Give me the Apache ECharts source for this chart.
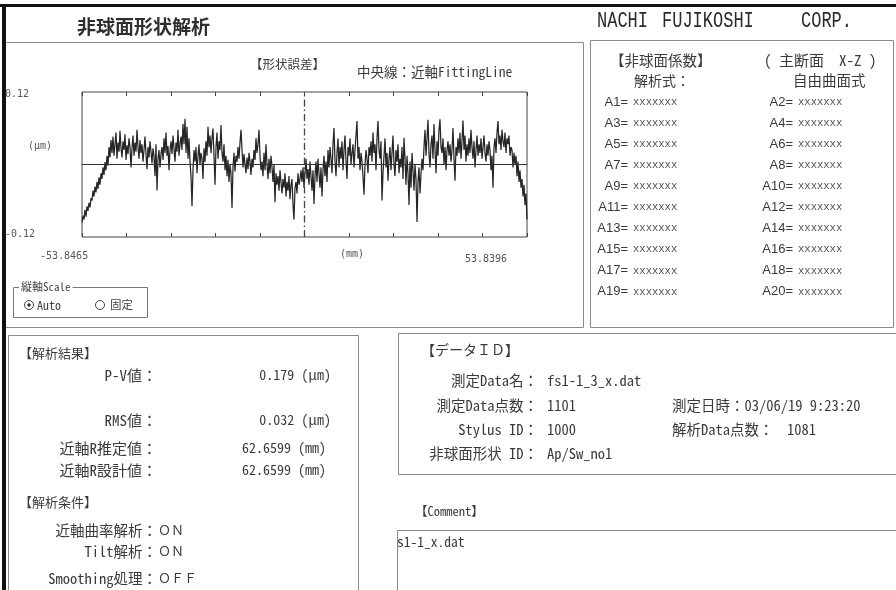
<!DOCTYPE html>
<html>
<head>
<meta charset="utf-8">
<script src="https://cdn.jsdelivr.net/npm/echarts@6/dist/echarts.min.js"></script>
<style>
  html, body { margin: 0; padding: 0; background: #fff; }
  #main { width: 896px; height: 590px; }
</style>
</head>
<body>
<div id="main"></div>
<script>
// ---- measured profile: form error in nm, sampled evenly over the scan length (mm) ----
const xMin = -53.8465;
const xMax = 53.8396;
const xEndLabels = ['-53.8465', '53.8396'];
const yTickValues = [-0.12, 0.12];

const profileNm = [
  -100, -88, -95, -78, -90, -72, -80, -66, -74, -58,
  -62, -45, -55, -38, -48, -30, -42, -22, -35, -15,
  -25, -5, -18, 4, -10, 15, -2, 30, 12, 42,
  20, 48, 15, 35, 55, 10, 38, 22, 58, 28,
  12, 40, 25, 52, 8, 33, 18, 45, 30, -5,
  28, 50, 15, 38, 22, 60, 30, 10, 42, 20,
  35, 5, 25, 48, 18, -8, 30, 12, 40, 22,
  2, 28, 15, -20, 35, -45, 10, 25, -5, 18,
  30, 8, 45, 20, 55, 15, 32, -10, 25, 40,
  18, 50, 28, 5, 38, 22, 60, 15, 35, 48,
  25, 70, 35, 79, 20, 65, 10, 45, 5, -20,
  -72, -10, 25, 5, 30, -15, 15, 35, 0, 20,
  10, -25, 28, 5, 40, 15, 65, 30, 50, 20,
  45, 62, 15, -35, 30, 55, 10, 40, 25, 68,
  20, 5, 35, -10, 15, -20, 8, -30, 0, -15,
  -75, -5, 20, -12, 15, 5, 30, 10, 38, 60,
  25, -5, 18, 0, -15, 12, -8, 20, 5, -18,
  10, -5, 25, 8, 45, 20, 35, 60, 15, -10,
  5, -20, 20, -10, 35, 0, -25, 10, -15, 15,
  -5, -30, 0, -65, -15, -35, -20, -45, -10, -30,
  -50, -25, -40, -15, -55, -30, -45, -20, -60, -35,
  -25, -70, -95, -40, -30, -50, -15, -35, -25, -10,
  -30, -5, -40, -15, 10, -25, -8, -35, 5, -20,
  -45, -10, -68, -20, 5, -30, 10, -15, -40, -5,
  -55, -10, 15, -20, 5, -30, 25, -5, 30, 10,
  -15, 35, 63, 5, -20, 20, 45, -5, 30, 10,
  40, -10, 25, 50, 5, -25, 30, 15, 45, 0,
  20, 35, -5, 25, 50, 75, 10, 30, -10, 20,
  5, -20, -52, 0, 25, 10, -15, 30, 15, 40,
  5, 55, 20, 35, -10, 45, 75, 25, 10, 40,
  -62, -15, 15, 45, -5, 20, -28, 10, 30, -10,
  20, 50, 0, -20, 25, 5, 35, -15, 10, -5,
  30, -25, 46, 10, -35, 15, -15, -70, 5, -40,
  20, -10, -45, 0, -25, -99, -30, -5, -50, -15,
  10, -10, 30, 60, 15, 45, 77, 20, -5, 35,
  50, 10, 70, 25, -15, 40, 15, 60, 78, 30,
  20, 45, 0, 30, -10, 25, 40, 15, 35, 5,
  25, 63, 10, -28, 30, 15, 45, 20, 55, 10,
  40, 76, 25, 50, 5, 35, 15, 45, 20, 60,
  30, 10, 40, -5, 25, 50, 15, 35, 20, 45,
  10, 30, 50, 20, 5, 35, 15, 40, 25, -10,
  15, -40, 30, 45, 20, 55, 75, 35, 50, 25,
  60, 40, 30, 55, 20, 45, 35, 50, 15, 30,
  25, -5, 20, 0, 15, -20, 5, -30, -10, -40,
  -25, -55, -35, -70, -50, -95
];

// ---- report text blocks ----
const coefNamesLeft  = ['A1=', 'A3=', 'A5=', 'A7=', 'A9=', 'A11=', 'A13=', 'A15=', 'A17=', 'A19='];
const coefNamesRight = ['A2=', 'A4=', 'A6=', 'A8=', 'A10=', 'A12=', 'A14=', 'A16=', 'A18=', 'A20='];
const coefValuesLeft  = ['xxxxxxx', 'xxxxxxx', 'xxxxxxx', 'xxxxxxx', 'xxxxxxx', 'xxxxxxx', 'xxxxxxx', 'xxxxxxx', 'xxxxxxx', 'xxxxxxx'];
const coefValuesRight = ['xxxxxxx', 'xxxxxxx', 'xxxxxxx', 'xxxxxxx', 'xxxxxxx', 'xxxxxxx', 'xxxxxxx', 'xxxxxxx', 'xxxxxxx', 'xxxxxxx'];

const resultLabels = ['P-V値：', 'RMS値：', '近軸R推定値：', '近軸R設計値：'];
const resultValues = ['0.179 (μm)', '0.032 (μm)', '62.6599 (mm)', '62.6599 (mm)'];
const conditionLabels = ['近軸曲率解析：', 'Tilt解析：', 'Smoothing処理：'];
const conditionValues = ['ＯＮ', 'ＯＮ', 'ＯＦＦ'];

const dataIdLabels = ['測定Data名：', '測定Data点数：', 'Stylus ID：', '非球面形状 ID：'];
const dataIdValues = ['fs1-1_3_x.dat', '1101', '1000', 'Ap/Sw_no1'];
const measureDate = '測定日時：03/06/19 9:23:20';
const analysisCountLabel = '解析Data点数：';
const analysisCountValue = '1081';
const commentText = 's1-1_x.dat';

// ---- drawing ----
const MONO = '"Noto Sans Mono CJK JP", "DejaVu Sans Mono", "Noto Sans CJK JP", monospace';
const JP = '"Noto Sans CJK JP", "Noto Sans", sans-serif';
const SMALL = '"DejaVu Sans Mono", monospace';
const INK = '#3a3a3a';
const FRAME = '#8a8a8a';

function txt(x, y, s, size, extra) {
  const style = Object.assign({
    text: s, fontSize: size, fontFamily: MONO, fill: INK,
    align: 'left', verticalAlign: 'middle'
  }, extra || {});
  return { type: 'text', x: x, y: y, z: 20, silent: true, style: style };
}
function box(x, y, w, h, stroke, lw) {
  return { type: 'rect', z: 5, silent: true,
    shape: { x: x, y: y, width: w, height: h },
    style: { fill: 'none', stroke: stroke || FRAME, lineWidth: lw || 1 } };
}

const step = (xMax - xMin) / (profileNm.length - 1);
const profileData = profileNm.map((nm, i) => [xMin + i * step, nm / 1000]);

const graphics = [];

// header
graphics.push(txt(77, 27, '非球面形状解析', 19, { fontFamily: JP, fontWeight: 'bold', fill: '#2e2e2e' }));
['NACHI', 'FUJIKOSHI', 'CORP.'].forEach((w, i) => {
  const xs = [597, 662, 801];
  graphics.push({ type: 'text', x: xs[i], y: 21, z: 20, scaleY: 1.3, silent: true,
    style: { text: w, fontSize: 17, fontFamily: '"Liberation Mono", "DejaVu Sans Mono", monospace',
      fill: '#2a2a2a', align: 'left', verticalAlign: 'middle' } });
});

// panels
graphics.push(box(4.5, 42.5, 579, 285));            // form-error panel
graphics.push(box(590.5, 40.5, 303, 287));          // coefficient panel
graphics.push(box(8.5, 335.5, 350, 270));           // results panel
graphics.push(box(398.5, 333.5, 510, 141));         // data id panel
graphics.push(box(397.5, 530.5, 510, 80));          // comment box

// form-error panel texts
graphics.push(txt(250, 64, '【形状誤差】', 12.5, { fontFamily: JP }));
graphics.push(txt(357, 72, '中央線：近軸FittingLine', 13.5));
graphics.push(txt(28, 146, '(μm)', 10, { fill: '#555', fontFamily: SMALL }));
graphics.push(txt(40, 256, xEndLabels[0], 10, { fill: '#555', fontFamily: SMALL }));
graphics.push(txt(465, 259, xEndLabels[1], 10, { fill: '#555', fontFamily: SMALL }));
graphics.push(txt(340, 254, '(mm)', 10, { fill: '#555', fontFamily: SMALL }));

// vertical scale selector
graphics.push(box(13.5, 287.5, 134, 30, '#777'));
graphics.push(txt(19, 287, '縦軸Scale', 11, { fill: '#444', backgroundColor: '#fff', padding: [0, 2] }));
graphics.push({ type: 'circle', z: 20, silent: true, shape: { cx: 29, cy: 305, r: 4.5 }, style: { fill: '#fff', stroke: '#444', lineWidth: 1 } });
graphics.push({ type: 'circle', z: 21, silent: true, shape: { cx: 29, cy: 305, r: 1.8 }, style: { fill: '#333' } });
graphics.push(txt(37, 305, 'Auto', 12, { fill: '#444' }));
graphics.push({ type: 'circle', z: 20, silent: true, shape: { cx: 100, cy: 305, r: 4.5 }, style: { fill: '#fff', stroke: '#444', lineWidth: 1 } });
graphics.push(txt(110, 305, '固定', 11.5, { fill: '#444' }));

// coefficient panel
graphics.push(txt(610, 60, '【非球面係数】', 14.5, { fontFamily: JP }));
graphics.push(txt(764, 60, '( 主断面  X-Z )', 15));
graphics.push(txt(634, 81, '解析式：', 14, { fontFamily: JP }));
graphics.push(txt(793, 80, '自由曲面式', 14.5, { fontFamily: JP }));
coefNamesLeft.forEach((n, k) => {
  const y = 102 + 21.1 * k;
  graphics.push(txt(628, y, n, 13, { align: 'right', fontFamily: '"Liberation Sans Narrow", "Liberation Sans", sans-serif' }));
  graphics.push(txt(633, y, coefValuesLeft[k], 10.5, { fill: '#555', fontFamily: SMALL }));
  graphics.push(txt(793, y, coefNamesRight[k], 13, { align: 'right', fontFamily: '"Liberation Sans Narrow", "Liberation Sans", sans-serif' }));
  graphics.push(txt(798, y, coefValuesRight[k], 10.5, { fill: '#555', fontFamily: SMALL }));
});

// results panel
graphics.push(txt(19, 353, '【解析結果】', 13, { fontFamily: JP }));
const resultY = [375, 420, 448, 470];
resultLabels.forEach((l, k) => {
  graphics.push(txt(157, resultY[k], l, 15, { align: 'right' }));
  graphics.push(txt(k < 2 ? 331 : 326, resultY[k], resultValues[k], 14, { align: 'right' }));
});
graphics.push(txt(19, 502, '【解析条件】', 13, { fontFamily: JP }));
const condY = [530, 551, 578];
conditionLabels.forEach((l, k) => {
  graphics.push(txt(157, condY[k], l, 14.5, { align: 'right' }));
  graphics.push(txt(158, condY[k], conditionValues[k], 13));
});

// data id panel
graphics.push(txt(421, 350, '【データＩＤ】', 14, { fontFamily: JP }));
const idY = [380, 405, 429, 453];
dataIdLabels.forEach((l, k) => {
  graphics.push(txt(538, idY[k], l, 14.5, { align: 'right' }));
  graphics.push(txt(547, idY[k], dataIdValues[k], 14.5));
});
graphics.push(txt(672, 405, measureDate, 14.5));
graphics.push(txt(672, 429, analysisCountLabel, 14.5));
graphics.push(txt(787, 429, analysisCountValue, 14.5));

// comment
graphics.push(txt(415, 511, '【Comment】', 12.5));
graphics.push(txt(397, 542, commentText, 13.5));

// heavy page border (top and left)
graphics.push({ type: 'rect', z: 50, silent: true, shape: { x: 0, y: 4, width: 896, height: 3 }, style: { fill: '#111' } });
graphics.push({ type: 'rect', z: 50, silent: true, shape: { x: 2, y: 4, width: 4, height: 590 }, style: { fill: '#111' } });

const tickAxis = (pos) => ({
  type: 'value', min: 0, max: 10, interval: 1, position: pos,
  axisLine: { show: false, onZero: false },
  axisTick: { show: true, inside: true, length: 4, lineStyle: { color: '#444', width: 1 } },
  axisLabel: { show: false }, splitLine: { show: false }
});

const chart = echarts.init(document.getElementById('main'), null, { renderer: 'canvas' });
chart.setOption({
  animation: false,
  backgroundColor: '#fff',
  grid: { left: 82, top: 92, width: 445, height: 145, show: true, borderColor: '#444', borderWidth: 1, backgroundColor: 'transparent' },
  xAxis: [
    { type: 'value', min: xMin, max: xMax, show: false },
    tickAxis('bottom'),
    tickAxis('top')
  ],
  yAxis: [{
    type: 'value', min: -0.125, max: 0.125,
    axisLine: { show: false }, axisTick: { show: false }, splitLine: { show: false },
    axisLabel: {
      customValues: yTickValues, margin: 77, align: 'left',
      formatter: (v) => v.toFixed(2),
      fontSize: 10, color: '#555', fontFamily: SMALL
    }
  }],
  series: [{
    type: 'line', xAxisIndex: 0, yAxisIndex: 0,
    data: profileData, showSymbol: false, symbol: 'none', silent: true,
    lineStyle: { color: '#262626', width: 1.25 },
    markLine: {
      silent: true, symbol: ['none', 'none'], label: { show: false },
      data: [
        { yAxis: 0, lineStyle: { color: '#333', type: 'solid', width: 1 } },
        { xAxis: 0, lineStyle: { color: '#444', type: [7, 3, 1.5, 3], width: 1.3 } }
      ]
    }
  }],
  graphic: graphics
});
</script>
</body>
</html>
